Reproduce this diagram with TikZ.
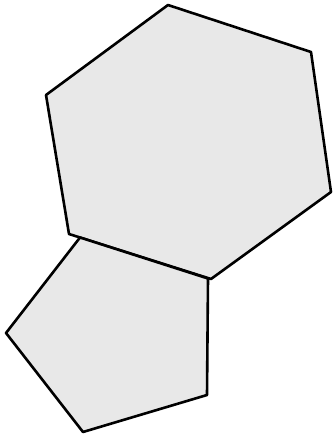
\documentclass[tikz,border=0pt]{standalone}
\begin{document}
\begin{tikzpicture}[x=1pt,y=-1pt,
  poly/.style={draw=black,fill=black!9,line width=2.6pt,line join=round}]
\useasboundingbox (0,0) rectangle (336,443);
\draw[poly] (168,5) coordinate (h1) -- (311,52) coordinate (h2) -- (331,192) coordinate (h3)
  -- (211,279) coordinate (h4) -- (69,234) coordinate (h5) -- (46,95) coordinate (h6) -- cycle;
\draw[poly] (80,237.5) coordinate (p1) -- (208,278.5) coordinate (p2) -- (207,395) coordinate (p3)
  -- (83,432) coordinate (p4) -- (6,333) coordinate (p5) -- cycle;
\end{tikzpicture}
\end{document}
